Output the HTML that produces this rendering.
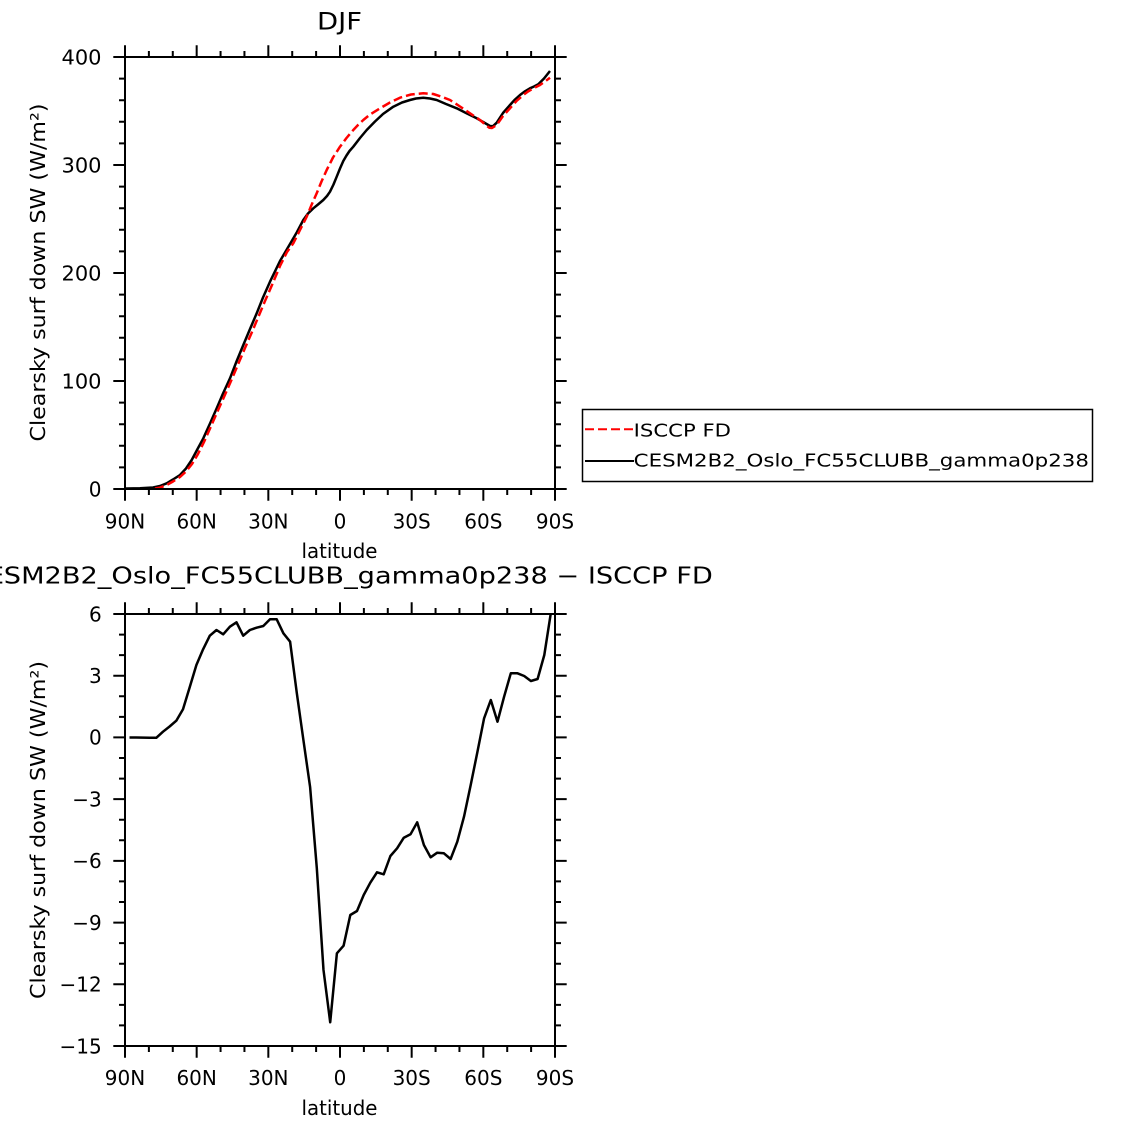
<!DOCTYPE html>
<html>
<head>
<meta charset="utf-8">
<style>
html,body{margin:0;padding:0;background:#fff;}
svg{display:block;}
text{font-family:"DejaVu Sans","Liberation Sans",sans-serif;fill:#000;}
</style>
</head>
<body>
<svg width="1123" height="1125" viewBox="0 0 1123 1125" xmlns="http://www.w3.org/2000/svg">
<rect x="0" y="0" width="1123" height="1125" fill="#fff"/>
<defs>
<clipPath id="c1"><rect x="125" y="57" width="430" height="432"/></clipPath>
<clipPath id="c2"><rect x="125" y="614" width="430" height="432"/></clipPath>
</defs>

<!-- ================= TOP PLOT ================= -->
<text x="339.5" y="29.3" font-size="24" text-anchor="middle" textLength="45" lengthAdjust="spacingAndGlyphs">DJF</text>

<g clip-path="url(#c1)" fill="none" stroke-linejoin="round" stroke-linecap="butt">
<polyline stroke="#000" stroke-width="2.5" points="126,488.5 140,488.3 153,487.5 160,486 166.7,483.3 173,479.5 180,475 186,468.5 191.7,460 197,450 203.3,438.3 210,423.5 216.7,408.3 223,393.5 230,378.3 236.5,361.5 243.3,345 250,329 256.7,313.3 263,297.5 270,281.7 280,261 290,244 297,232 303.3,220 308,213.5 313.3,208.3 318,204.5 323.3,200 327,196 330,191.7 333.5,184.5 336.7,176.7 340,168.5 343.3,161 346.5,155.5 349.5,151 353.3,146.7 360,138 366.7,130 375,121.5 383,114 393.3,106.7 402,102.5 410,100 416,98.5 423.3,97.7 430,98.5 436.7,100 446,104 456.7,108.3 466,113 476.7,118.3 484,122.5 490,126 493,126.2 496.7,122.7 503,113 510,105 515,99.5 520,95 525,91.3 530,88.3 534,86.5 538.3,84.3 544,78.5 550,71"/>
<polyline stroke="#ff0000" stroke-width="2.5" stroke-dasharray="9 4" points="155,488.5 160,487.6 166.7,485 173,481.5 180,477 186,471.5 192,464 198,454 204,442 210,428.5 217,412.5 224,397 231,381 238,364.5 245,348 252,332 258.5,316.5 265,301 272,285 280,266 287,252 293.3,243.3 300,230 306.7,216.7 311.5,205 316.7,193.3 321.5,181.5 326.7,170 333,157.5 340,146.7 346.5,138 353.3,130 358,125 363.3,120 370,114.5 380,108.3 390,102.5 400,97.7 411,94.5 423.3,93.3 433.3,94 441,96.5 450,100 460,106.5 470,113.3 480,120 487,126 489.3,127.7 492,128 496.7,125 503,116 510,108.3 516.5,101 523.3,95 528,91.5 533.3,88.3 540,85 545,81.5 550,77.7"/>
</g>

<!-- axes box -->
<rect x="125" y="57" width="430" height="432" fill="none" stroke="#000" stroke-width="2"/>
<!-- ticks -->
<path fill="none" stroke="#000" stroke-width="2" d="
M125 489V500.7 M196.67 489V500.7 M268.33 489V500.7 M340 489V500.7 M411.67 489V500.7 M483.33 489V500.7 M555 489V500.7
M148.89 489V495 M172.78 489V495 M220.56 489V495 M244.44 489V495 M292.22 489V495 M316.11 489V495 M363.89 489V495 M387.78 489V495 M435.56 489V495 M459.44 489V495 M507.22 489V495 M531.11 489V495
M125 57V45.3 M196.67 57V45.3 M268.33 57V45.3 M340 57V45.3 M411.67 57V45.3 M483.33 57V45.3 M555 57V45.3
M148.89 57V51 M172.78 57V51 M220.56 57V51 M244.44 57V51 M292.22 57V51 M316.11 57V51 M363.89 57V51 M387.78 57V51 M435.56 57V51 M459.44 57V51 M507.22 57V51 M531.11 57V51
M125 57H113.3 M125 165H113.3 M125 273H113.3 M125 381H113.3 M125 489H113.3
M125 78.6H119 M125 100.2H119 M125 121.8H119 M125 143.4H119 M125 186.6H119 M125 208.2H119 M125 229.8H119 M125 251.4H119 M125 294.6H119 M125 316.2H119 M125 337.8H119 M125 359.4H119 M125 402.6H119 M125 424.2H119 M125 445.8H119 M125 467.4H119
M555 57H566.7 M555 165H566.7 M555 273H566.7 M555 381H566.7 M555 489H566.7
M555 78.6H561 M555 100.2H561 M555 121.8H561 M555 143.4H561 M555 186.6H561 M555 208.2H561 M555 229.8H561 M555 251.4H561 M555 294.6H561 M555 316.2H561 M555 337.8H561 M555 359.4H561 M555 402.6H561 M555 424.2H561 M555 445.8H561 M555 467.4H561
"/>
<!-- y tick labels -->
<g font-size="20" text-anchor="end">
<text x="101.5" y="64.3" textLength="40" lengthAdjust="spacingAndGlyphs">400</text>
<text x="101.5" y="172.3" textLength="40" lengthAdjust="spacingAndGlyphs">300</text>
<text x="101.5" y="280.3" textLength="40" lengthAdjust="spacingAndGlyphs">200</text>
<text x="101.5" y="388.3" textLength="40" lengthAdjust="spacingAndGlyphs">100</text>
<text x="101.5" y="496.3">0</text>
</g>
<!-- x tick labels -->
<g font-size="20" text-anchor="middle">
<text x="125" y="528.3">90N</text>
<text x="196.67" y="528.3">60N</text>
<text x="268.33" y="528.3">30N</text>
<text x="340" y="528.3">0</text>
<text x="411.67" y="528.3">30S</text>
<text x="483.33" y="528.3">60S</text>
<text x="555" y="528.3">90S</text>
</g>
<text x="339.5" y="558" font-size="20" text-anchor="middle" textLength="76" lengthAdjust="spacingAndGlyphs">latitude</text>
<text transform="translate(45,272.5) rotate(-90)" x="0" y="0" font-size="20" text-anchor="middle" textLength="338" lengthAdjust="spacingAndGlyphs">Clearsky surf down SW (W/m²)</text>

<!-- legend -->
<rect x="582.5" y="409.5" width="510" height="72" fill="none" stroke="#000" stroke-width="1.5"/>
<line x1="585" y1="429.3" x2="634" y2="429.3" stroke="#ff0000" stroke-width="2" stroke-dasharray="9 4"/>
<line x1="585" y1="461" x2="634" y2="461" stroke="#000" stroke-width="2"/>
<text x="633.7" y="436.7" font-size="18" textLength="97.3" lengthAdjust="spacingAndGlyphs">ISCCP FD</text>
<text x="633.7" y="466.7" font-size="18" textLength="455.3" lengthAdjust="spacingAndGlyphs">CESM2B2_Oslo_FC55CLUBB_gamma0p238</text>

<!-- ================= BOTTOM PLOT ================= -->
<text x="3.8" y="583.3" font-size="23" text-anchor="end">CE</text>
<text x="3.8" y="583.3" font-size="23" textLength="709" lengthAdjust="spacingAndGlyphs">SM2B2_Oslo_FC55CLUBB_gamma0p238 − ISCCP FD</text>

<g clip-path="url(#c2)" fill="none" stroke-linejoin="round">
<polyline stroke="#000" stroke-width="2.5" points="129.5,737.5 136.2,737.5 142.9,737.6 149.6,737.8 156.3,737.8 163.0,731.7 169.6,726.5 176.3,720.7 183.0,709.3 189.7,687.3 196.4,665 203.1,649.3 209.8,635.7 216.5,630 223.2,634.3 229.9,626.7 236.5,622.3 243.2,635.7 249.9,630 256.6,627.7 263.3,626 270.0,619.3 276.7,619.3 283.4,633.3 290.1,641.7 296.8,693 303.4,740 310.1,787 316.8,868 323.5,970 330.2,1022.3 336.9,953.3 343.6,945.7 350.3,915 357.0,911 363.7,895 370.3,882.7 377.0,872.3 383.7,874.3 390.4,856 397.1,848.3 403.8,837.7 410.5,834.3 417.2,822.3 423.9,845 430.6,857.3 437.2,852.7 443.9,853.3 450.6,859 457.3,841.7 464.0,816.7 470.7,785 477.4,752 484.1,718.3 490.8,700 497.5,721.7 504.1,696.7 510.8,673.3 517.5,673.3 524.2,676 530.9,681 537.6,679 544.3,655 551.0,612"/>
</g>

<rect x="125" y="614" width="430" height="432" fill="none" stroke="#000" stroke-width="2"/>
<path fill="none" stroke="#000" stroke-width="2" d="
M125 1046V1057.7 M196.67 1046V1057.7 M268.33 1046V1057.7 M340 1046V1057.7 M411.67 1046V1057.7 M483.33 1046V1057.7 M555 1046V1057.7
M148.89 1046V1052 M172.78 1046V1052 M220.56 1046V1052 M244.44 1046V1052 M292.22 1046V1052 M316.11 1046V1052 M363.89 1046V1052 M387.78 1046V1052 M435.56 1046V1052 M459.44 1046V1052 M507.22 1046V1052 M531.11 1046V1052
M125 614V602.3 M196.67 614V602.3 M268.33 614V602.3 M340 614V602.3 M411.67 614V602.3 M483.33 614V602.3 M555 614V602.3
M148.89 614V608 M172.78 614V608 M220.56 614V608 M244.44 614V608 M292.22 614V608 M316.11 614V608 M363.89 614V608 M387.78 614V608 M435.56 614V608 M459.44 614V608 M507.22 614V608 M531.11 614V608
M125 614H113.3 M125 675.71H113.3 M125 737.43H113.3 M125 799.14H113.3 M125 860.86H113.3 M125 922.57H113.3 M125 984.29H113.3 M125 1046H113.3
M125 634.57H119 M125 655.14H119 M125 696.29H119 M125 716.86H119 M125 758H119 M125 778.57H119 M125 819.71H119 M125 840.29H119 M125 881.43H119 M125 902H119 M125 943.14H119 M125 963.71H119 M125 1004.86H119 M125 1025.43H119
M555 614H566.7 M555 675.71H566.7 M555 737.43H566.7 M555 799.14H566.7 M555 860.86H566.7 M555 922.57H566.7 M555 984.29H566.7 M555 1046H566.7
M555 634.57H561 M555 655.14H561 M555 696.29H561 M555 716.86H561 M555 758H561 M555 778.57H561 M555 819.71H561 M555 840.29H561 M555 881.43H561 M555 902H561 M555 943.14H561 M555 963.71H561 M555 1004.86H561 M555 1025.43H561
"/>
<g font-size="20" text-anchor="end">
<text x="101.7" y="621.3">6</text>
<text x="101.7" y="683">3</text>
<text x="101.7" y="744.7">0</text>
<text x="101.7" y="806.4">−3</text>
<text x="101.7" y="868.2">−6</text>
<text x="101.7" y="929.9">−9</text>
<text x="101.7" y="991.6">−12</text>
<text x="101.7" y="1053.3">−15</text>
</g>
<g font-size="20" text-anchor="middle">
<text x="125" y="1085">90N</text>
<text x="196.67" y="1085">60N</text>
<text x="268.33" y="1085">30N</text>
<text x="340" y="1085">0</text>
<text x="411.67" y="1085">30S</text>
<text x="483.33" y="1085">60S</text>
<text x="555" y="1085">90S</text>
</g>
<text x="339.5" y="1115" font-size="20" text-anchor="middle" textLength="76" lengthAdjust="spacingAndGlyphs">latitude</text>
<text transform="translate(45,830) rotate(-90)" x="0" y="0" font-size="20" text-anchor="middle" textLength="338" lengthAdjust="spacingAndGlyphs">Clearsky surf down SW (W/m²)</text>
</svg>
</body>
</html>
